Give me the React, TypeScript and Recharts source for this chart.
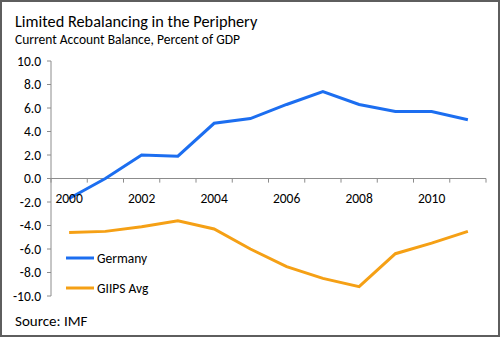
import React from 'react';
import { LineChart, Line, XAxis, YAxis, ReferenceLine, ReferenceDot } from 'recharts';

const years = [2000, 2001, 2002, 2003, 2004, 2005, 2006, 2007, 2008, 2009, 2010, 2011];
const germany = [-1.7, 0.0, 2.0, 1.9, 4.7, 5.1, 6.3, 7.4, 6.3, 5.7, 5.7, 5.0];
const giips = [-4.6, -4.5, -4.1, -3.6, -4.3, -6.0, -7.5, -8.5, -9.2, -6.4, -5.5, -4.5];
const yTicks = [-10, -8, -6, -4, -2, 0, 2, 4, 6, 8, 10];
const yearLabels = [2000, 2002, 2004, 2006, 2008, 2010];

const FONT = 'Carlito, Calibri, Lato, sans-serif';
const BLUE = '#1c6ef0';
const ORANGE = '#f5a015';
const AXIS = '#8c8c8c';

const data = years.map((year, i) => ({ year, germany: germany[i], giips: giips[i] }));

// category boundaries, where Excel puts its tick marks
const boundaries = [...years.map(y => y - 0.5), years[years.length - 1] + 0.5];

const series = [
  { key: 'germany', name: 'Germany', color: BLUE },
  { key: 'giips', name: 'GIIPS Avg', color: ORANGE },
];

export default function App() {
  return (
    <div
      style={{
        position: 'fixed',
        left: 0,
        top: 0,
        width: 500,
        height: 337,
        boxSizing: 'border-box',
        border: '2px solid #5e5e5e',
        background: '#fff',
        fontFamily: FONT,
      }}
    >
      <div style={{ position: 'absolute', left: 13, top: 9, fontSize: 16.3, color: '#000', whiteSpace: 'nowrap' }}>
        Limited Rebalancing in the Periphery
      </div>
      <div style={{ position: 'absolute', left: 13, top: 29, fontSize: 13.5, color: '#000', whiteSpace: 'nowrap' }}>
        Current Account Balance, Percent of GDP
      </div>
      <div style={{ position: 'absolute', left: 13, top: 310, fontSize: 15, color: '#000', whiteSpace: 'nowrap' }}>
        Source: IMF
      </div>
      <div style={{ position: 'absolute', left: -2, top: -2 }}>
        <LineChart width={500} height={337} data={data} margin={{ top: 61, right: 14, bottom: 41, left: 0 }}>
          <XAxis dataKey="year" type="number" domain={[1999.5, 2011.5]} hide />
          <YAxis
            type="number"
            domain={[-10, 10]}
            ticks={yTicks}
            width={51}
            tickFormatter={(v: number) => v.toFixed(1)}
            axisLine={{ stroke: AXIS }}
            tickLine={{ stroke: AXIS }}
            tickSize={4}
            tickMargin={6}
            tick={{ fill: '#000', fontSize: 13.5, fontFamily: FONT }}
            interval={0}
          />
          <ReferenceLine y={0} stroke={AXIS} />
          {boundaries.map(b => (
            <ReferenceLine
              key={'t' + b}
              segment={[{ x: b, y: 0 }, { x: b, y: -0.35 }]}
              stroke={AXIS}
            />
          ))}
          {yearLabels.map(y => (
            <ReferenceDot
              key={'l' + y}
              x={y}
              y={0}
              r={0}
              fill="none"
              stroke="none"
              label={{ value: String(y), position: 'bottom', offset: 15, fill: '#000', fontSize: 13.5, fontFamily: FONT }}
            />
          ))}
          {series.map(s => (
            <Line
              key={s.key}
              type="linear"
              dataKey={s.key}
              name={s.name}
              stroke={s.color}
              strokeWidth={3}
              dot={false}
              isAnimationActive={false}
            />
          ))}
        </LineChart>
      </div>
      <div style={{ position: 'absolute', left: 64, top: 241, fontSize: 13.5, color: '#000' }}>
        {series.map(s => (
          <div key={s.key} style={{ display: 'flex', alignItems: 'center', height: 30 }}>
            <svg width={28} height={4} style={{ marginRight: 3 }}>
              <line x1={0} y1={2} x2={28} y2={2} stroke={s.color} strokeWidth={3} />
            </svg>
            <span>{s.name}</span>
          </div>
        ))}
      </div>
    </div>
  );
}
